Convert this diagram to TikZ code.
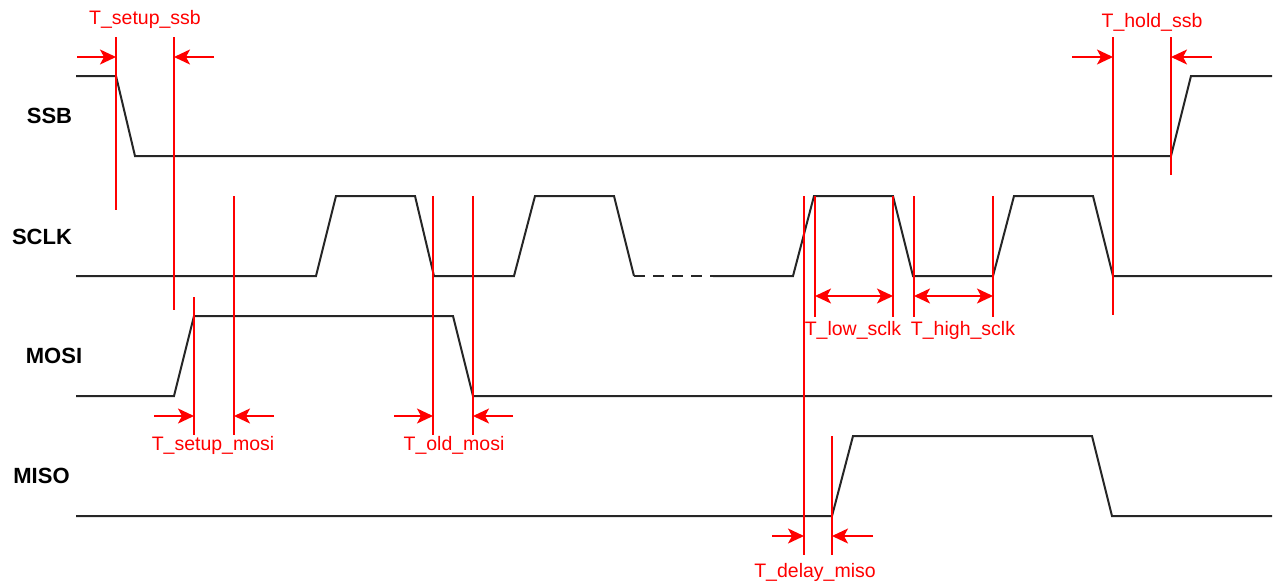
\documentclass[tikz,border=0pt]{standalone}
\usepackage{fontspec}
\setmainfont{Liberation Sans}
\usetikzlibrary{arrows.meta}
\begin{document}
\begin{tikzpicture}[x=1pt,y=-1pt,
  sig/.style={line width=2pt, black!85, line join=miter},
  redline/.style={red, line width=1.7pt},
  arr/.style={red, line width=1.7pt, -{Stealth[length=16pt,width=15pt,inset=4pt]}},
  darr/.style={red, line width=1.7pt, {Stealth[length=16pt,width=15pt,inset=4pt]}-{Stealth[length=16pt,width=15pt,inset=4pt]}},
  lbl/.style={font=\fontsize{22}{24}\selectfont\bfseries, inner sep=0pt, anchor=base},
  tlbl/.style={red, font=\fontsize{19.5}{22}\selectfont, inner sep=0pt, anchor=base}]
\useasboundingbox (0,0) rectangle (1274,584);

% signal names
\node[lbl] (ssb) at (49.5,123) {SSB};
\node[lbl] (sclk) at (42,244) {SCLK};
\node[lbl] (mosi) at (54,363) {MOSI};
\node[lbl] (miso) at (41.5,483) {MISO};

% waveforms
\draw[sig] (76,76)--(116,76)--(135,156)--(1171,156)--(1191,76)--(1272,76);
\draw[sig] (76,276)--(316,276)--(336,196)--(415,196)--(434,276)--(514,276)--(535,196)--(614,196)--(634,276);
\draw[sig, dash pattern=on 11pt off 8pt] (634,276)--(713,276);
\draw[sig] (713,276)--(793,276)--(814,196)--(893,196)--(913,276)--(993,276)--(1014,196)--(1093,196)--(1113,276)--(1272,276);
\draw[sig] (76,396)--(174,396)--(194,316)--(453,316)--(473,396)--(1272,396);
\draw[sig] (76,516)--(832,516)--(853,436)--(1092,436)--(1112,516)--(1272,516);

% red markers
\draw[redline] (116,37)--(116,210);
\draw[redline] (174,37)--(174,310);
\draw[redline] (194,297)--(194,435);
\draw[redline] (234,196)--(234,435);
\draw[redline] (433,196)--(433,435);
\draw[redline] (473,196)--(473,435);
\draw[redline] (804,196)--(804,555);
\draw[redline] (815,196)--(815,317);
\draw[redline] (893,196)--(893,317);
\draw[redline] (914,196)--(914,317);
\draw[redline] (993,196)--(993,317);
\draw[redline] (1113,37)--(1113,315);
\draw[redline] (1171,37)--(1171,175);
\draw[redline] (832,436)--(832,555);

% arrows
\draw[arr] (77,57)--(116,57);
\draw[arr] (214,57)--(174,57);
\draw[arr] (154,416)--(194,416);
\draw[arr] (274,416)--(234,416);
\draw[arr] (394,416)--(433,416);
\draw[arr] (513,416)--(473,416);
\draw[arr] (772,536)--(804,536);
\draw[arr] (873,536)--(832,536);
\draw[arr] (1072,57)--(1113,57);
\draw[arr] (1212,57)--(1171,57);
\draw[darr] (815,296)--(893,296);
\draw[darr] (914,296)--(993,296);

% timing labels
\node[tlbl] (tss) at (145,24) {T\_setup\_ssb};
\node[tlbl] (ths) at (1152,27) {T\_hold\_ssb};
\node[tlbl] (tsm) at (213,450) {T\_setup\_mosi};
\node[tlbl] (tom) at (454,450) {T\_old\_mosi};
\node[tlbl] (tls) at (853,335) {T\_low\_sclk};
\node[tlbl] (ths2) at (963,335) {T\_high\_sclk};
\node[tlbl] (tdm) at (815,577) {T\_delay\_miso};
\end{tikzpicture}
\end{document}
